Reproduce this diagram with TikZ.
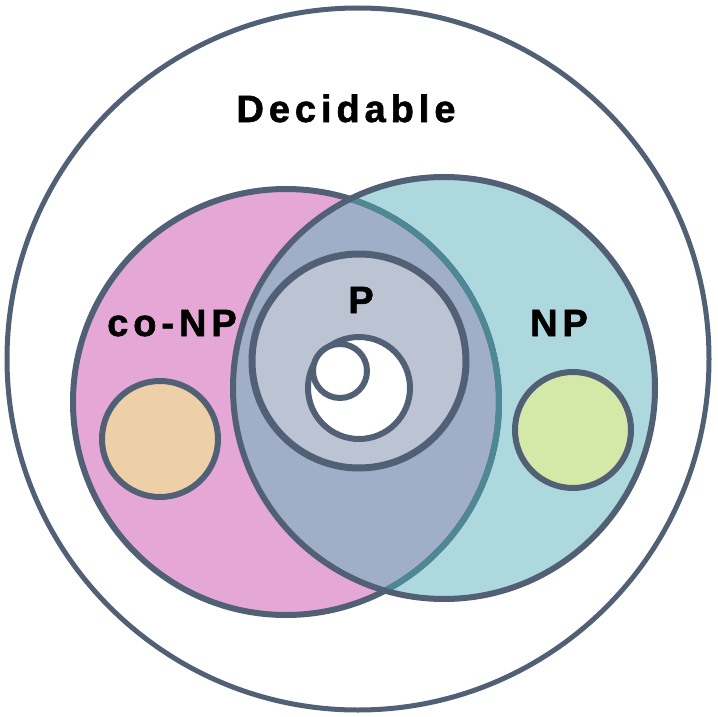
\documentclass[tikz,border=0pt]{standalone}
\usepackage{fontspec}
\newfontfamily\lblfont{Liberation Sans Bold}[LetterSpace=13.0, FakeBold=1.5]
\definecolor{edge}{HTML}{516075}
\definecolor{edgeteal}{HTML}{4D8894}
\definecolor{conpfill}{HTML}{E5A8D6}
\definecolor{npfill}{HTML}{ADD8DE}
\definecolor{bothfill}{HTML}{A0AEC8}
\definecolor{pfill}{HTML}{BCC4D3}
\definecolor{orangefill}{HTML}{EED0A8}
\definecolor{greenfill}{HTML}{D4E8A8}
\tikzset{
  ring/.style={draw=edge, line width=6pt},
  lbl/.style={font=\lblfont\fontsize{38}{40}\selectfont, anchor=base, inner sep=0pt}
}
\begin{document}
\begin{tikzpicture}[x=1pt,y=-1pt]
\useasboundingbox (0,0) rectangle (718,717);
% outer class
\draw[draw=edge, line width=5pt, fill=white] (358,359) circle (351);
% co-NP and NP discs
\fill[conpfill] (286,402) circle (213);
\fill[npfill] (444,388) circle (211);
\begin{scope}
  \clip (286,402) circle (213);
  \fill[bothfill] (444,388) circle (211);
\end{scope}
% co-NP boundary, tinted where it lies under NP
\draw[ring] (286,402) circle (213);
\begin{scope}
  \clip (444,388) circle (211);
  \draw[draw=edgeteal, line width=6pt] (286,402) circle (213);
\end{scope}
\draw[ring] (444,388) circle (211);
% P and its subclasses
\draw[ring, line width=7pt, fill=pfill] (359,361) circle (107);
\draw[ring, fill=white] (359,388) circle (51);
\draw[ring, fill=white] (340,371) circle (27);
% side classes
\draw[ring, fill=orangefill] (160,439) circle (58);
\draw[ring, fill=greenfill] (573,430) circle (58);
% labels
\node[lbl] (dec) at (346,122) {Decidable};
\node[lbl] (conp) at (172,336) {co-NP};
\node[lbl] (np) at (559,336) {NP};
\node[lbl] (p) at (361,313) {P};
\end{tikzpicture}
\end{document}
